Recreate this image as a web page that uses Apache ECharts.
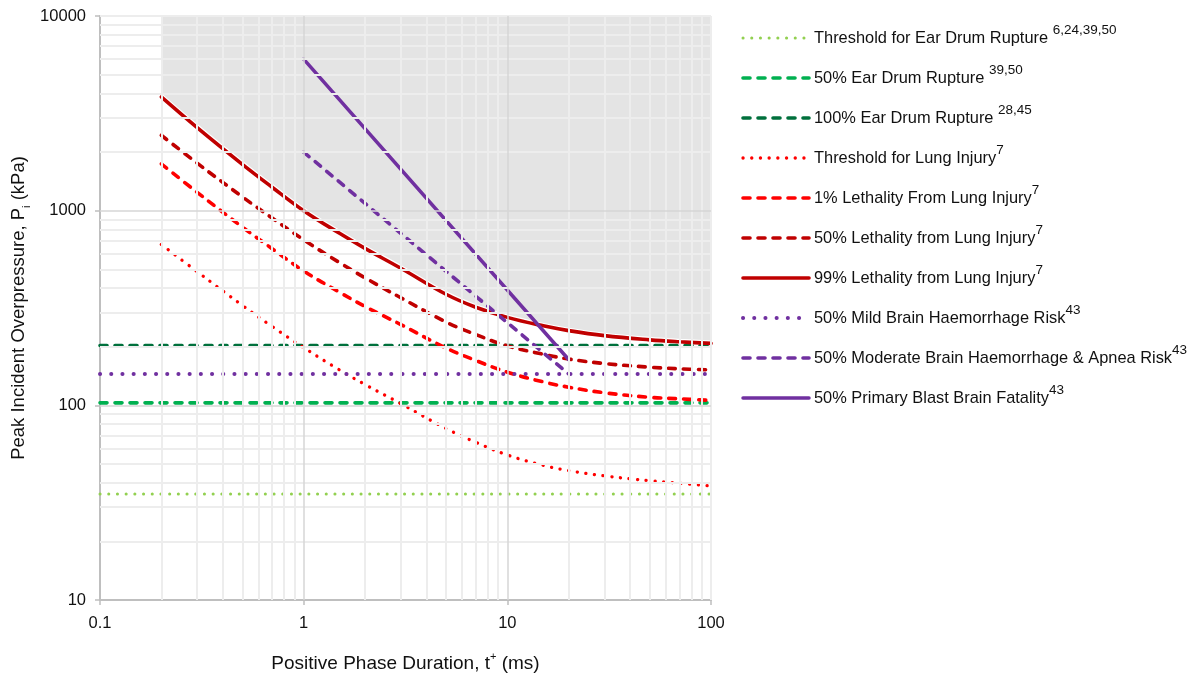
<!DOCTYPE html>
<html>
<head>
<meta charset="utf-8">
<script src="https://cdn.jsdelivr.net/npm/echarts@6/dist/echarts.min.js"></script>
<style>
  html, body { margin: 0; padding: 0; background: #fff; }
  #chart { width: 1203px; height: 681px; }
</style>
</head>
<body>
<div id="chart"></div>
<script>
/* ============================================================
   Blast injury thresholds — overpressure vs positive phase duration
   log-log, shaded zone above the 99% lung lethality curve
   ============================================================ */

// ---- data ----
var durations      = [0.2, 0.3, 0.5, 0.7, 1, 1.5, 2, 3, 5, 7, 10, 15, 20, 30, 50, 70, 100];
var lungThreshold  = [671, 486, 326, 254, 198, 152, 128, 102, 76, 64.6, 55.6, 49.2, 46.2, 43.4, 41, 39.8, 38.5];
var lung1          = [1740, 1242, 824, 638, 490, 381, 322, 260, 197, 170, 148, 132, 124, 116, 110, 108, 106];
var lung50         = [2440, 1754, 1178, 916, 708, 541, 452, 357, 268, 231, 202, 183, 173, 164, 157, 154, 152];
var lung99         = [3840, 2670, 1730, 1320, 1000, 765, 640, 506, 372, 319, 283, 256, 242, 228, 217, 212, 208];

var flatSpan       = [0.1, 100];          // horizontal criteria span the whole axis
var earThreshold   = 35;
var ear50          = 103;
var ear100         = 203;
var brainMild      = 145;

var brainSpan      = [1, 20];
var brainModerate  = [2000, 145];
var brainFatal     = [6000, 172];

var seriesNames = [
  "Threshold for Ear Drum Rupture",
  "50% Ear Drum Rupture",
  "100% Ear Drum Rupture",
  "Threshold for Lung Injury",
  "1% Lethality From Lung Injury",
  "50% Lethality from Lung Injury",
  "99% Lethality from Lung Injury",
  "50% Mild Brain Haemorrhage Risk",
  "50% Moderate Brain Haemorrhage & Apnea Risk",
  "50% Primary Blast Brain Fatality"
];
var seriesRefs = ["6,24,39,50", "39,50", "28,45", "7", "7", "7", "7", "43", "43", "43"];

// ---- styles ----
var FONT   = "'Liberation Sans', Arial, sans-serif";
var DOT_S  = [0.1, 8.6];
var DOT_L  = [0.1, 11.1];
var DASH   = [7, 8];
var lineWidths = [3, 3.6, 3.6, 3.3, 3.6, 3.6, 3.6, 4, 3.6, 3.5];

function pairs(xs, ys) {
  return xs.map(function (x, i) { return [x, ys[i]]; });
}
function flat(v) {
  return [[flatSpan[0], v], [flatSpan[1], v]];
}

function curve(idx, color, type, data, smooth) {
  return {
    type: "line",
    name: seriesNames[idx],
    data: data,
    symbol: "none",
    smooth: smooth ? 0.4 : false,
    z: 3,
    silent: true,
    lineStyle: { color: color, width: lineWidths[idx], type: type, cap: "round" },
    itemStyle: { color: color }
  };
}

// ---- grid lines (drawn as markLines so they sit over the grey zone) ----
var xMinorGrid = [], yMinorGrid = [];
[0.1, 1, 10].forEach(function (d) { for (var k = 2; k <= 9; k++) xMinorGrid.push(+(d * k).toPrecision(3)); });
[10, 100, 1000].forEach(function (d) { for (var k = 2; k <= 9; k++) yMinorGrid.push(d * k); });
var xMajorGrid = [1, 10];
var yMajorGrid = [100, 1000];

var MINOR_C = "#ededed", MAJOR_C = "#d6d6d6", AXIS_C = "#bfbfbf";
var tickX0 = 0.1 * Math.pow(10, -5 / 203.7);   // 5px left of the y axis
var tickY0 = 10 * Math.pow(10, -5 / 194.3);    // 5px below the x axis

function gl(a, b, color, width) {
  return [{ coord: a, lineStyle: { color: color, width: width, type: "solid" } }, { coord: b }];
}
var gridLines = [];
xMinorGrid.concat([100]).forEach(function (x) { gridLines.push(gl([x, 10], [x, 10000], MINOR_C, 2)); });
yMinorGrid.concat([10000]).forEach(function (y) { gridLines.push(gl([0.1, y], [100, y], MINOR_C, 2)); });
xMajorGrid.forEach(function (x) { gridLines.push(gl([x, 10], [x, 10000], MAJOR_C, 1.5)); });
yMajorGrid.forEach(function (y) { gridLines.push(gl([0.1, y], [100, y], MAJOR_C, 1.5)); });
// minor ticks outside the axes
xMinorGrid.forEach(function (x) { gridLines.push(gl([x, tickY0], [x, 10], AXIS_C, 1.5)); });
yMinorGrid.forEach(function (y) { gridLines.push(gl([tickX0, y], [0.1, y], AXIS_C, 1.5)); });

function tickFmt(v) { return String(+(+v).toPrecision(6)); }

var chart = echarts.init(document.getElementById("chart"), null, { renderer: "canvas" });

chart.setOption({
  animation: false,
  backgroundColor: "#fff",
  grid: { left: 100, right: 492, top: 16, bottom: 81, containLabel: false },
  legend: {
    data: seriesNames.map(function (n, i) {
      return { name: n, lineStyle: { width: lineWidths[i], cap: "round" } };
    }),
    orient: "vertical",
    left: 736,
    top: 18,
    itemWidth: 66,
    itemHeight: 14,
    itemGap: 17,
    selectedMode: false,
    itemStyle: { opacity: 0 },
    formatter: function (name) {
      var i = seriesNames.indexOf(name);
      var sep = i < 3 ? " " : "";
      return "{t|" + name + sep + "}{s|" + seriesRefs[i] + "}";
    },
    textStyle: {
      rich: {
        t: { fontFamily: FONT, fontSize: 16.4, lineHeight: 30, color: "#111" },
        s: { fontFamily: FONT, fontSize: 13.5, lineHeight: 8, verticalAlign: "top", color: "#111" }
      }
    }
  },
  xAxis: {
    type: "log",
    logBase: 10,
    min: 0.1,
    max: 100,
    name: "{n|Positive Phase Duration, t}{s|+}{n| (ms)}",
    nameLocation: "middle",
    nameGap: 51,
    nameTextStyle: {
      rich: {
        n: { fontFamily: FONT, fontSize: 19, lineHeight: 26, color: "#111" },
        s: { fontFamily: FONT, fontSize: 11, lineHeight: 14, verticalAlign: "top", color: "#111" }
      }
    },
    axisLine: { show: true, lineStyle: { color: AXIS_C, width: 2 } },
    axisTick: { show: true, length: 5, lineStyle: { color: AXIS_C, width: 1.5 } },
    axisLabel: { fontFamily: FONT, fontSize: 16.5, color: "#111", margin: 15, formatter: tickFmt },
    splitLine: { show: false },
    minorTick: { show: false },
    minorSplitLine: { show: false }
  },
  yAxis: {
    type: "log",
    logBase: 10,
    min: 10,
    max: 10000,
    name: "{n|Peak Incident Overpressure, P}{b|i}{n| (kPa)}",
    nameLocation: "middle",
    nameGap: 68,
    nameMoveOverlap: false,
    nameTextStyle: {
      rich: {
        n: { fontFamily: FONT, fontSize: 18.5, lineHeight: 26, color: "#111" },
        b: { fontFamily: FONT, fontSize: 11, lineHeight: 10, verticalAlign: "bottom", color: "#111" }
      }
    },
    axisLine: { show: true, lineStyle: { color: AXIS_C, width: 2 } },
    axisTick: { show: true, length: 5, lineStyle: { color: AXIS_C, width: 1.5 } },
    axisLabel: { fontFamily: FONT, fontSize: 16.5, color: "#111", margin: 14, formatter: tickFmt },
    splitLine: { show: false },
    minorTick: { show: false },
    minorSplitLine: { show: false }
  },
  series: [
    // grey zone above the 99% lethality curve
    {
      type: "line",
      name: "_zone",
      data: pairs(durations, lung99),
      symbol: "none",
      smooth: 0.4,
      silent: true,
      z: 1,
      lineStyle: { color: "#ffffff", width: 6 },
      areaStyle: { color: "#e4e4e4", origin: "end", opacity: 1 }
    },
    // grid
    {
      type: "line",
      name: "_grid",
      data: [],
      symbol: "none",
      silent: true,
      clip: false,
      z: 2,
      markLine: {
        silent: true,
        animation: false,
        symbol: ["none", "none"],
        label: { show: false },
        emphasis: { disabled: true },
        lineStyle: { type: "solid" },
        data: gridLines
      }
    },
    curve(0, "#92d050", DOT_S,   flat(earThreshold)),
    curve(1, "#00b050", DASH,    flat(ear50)),
    curve(2, "#00703c", DASH,    flat(ear100)),
    curve(3, "#ff0000", DOT_S,   pairs(durations, lungThreshold), true),
    curve(4, "#ff0000", DASH,    pairs(durations, lung1), true),
    curve(5, "#c00000", DASH,    pairs(durations, lung50), true),
    curve(6, "#c00000", "solid", pairs(durations, lung99), true),
    curve(7, "#7030a0", DOT_L,   flat(brainMild)),
    curve(8, "#7030a0", DASH,    pairs(brainSpan, brainModerate)),
    curve(9, "#7030a0", "solid", pairs(brainSpan, brainFatal))
  ]
});
</script>
</body>
</html>
